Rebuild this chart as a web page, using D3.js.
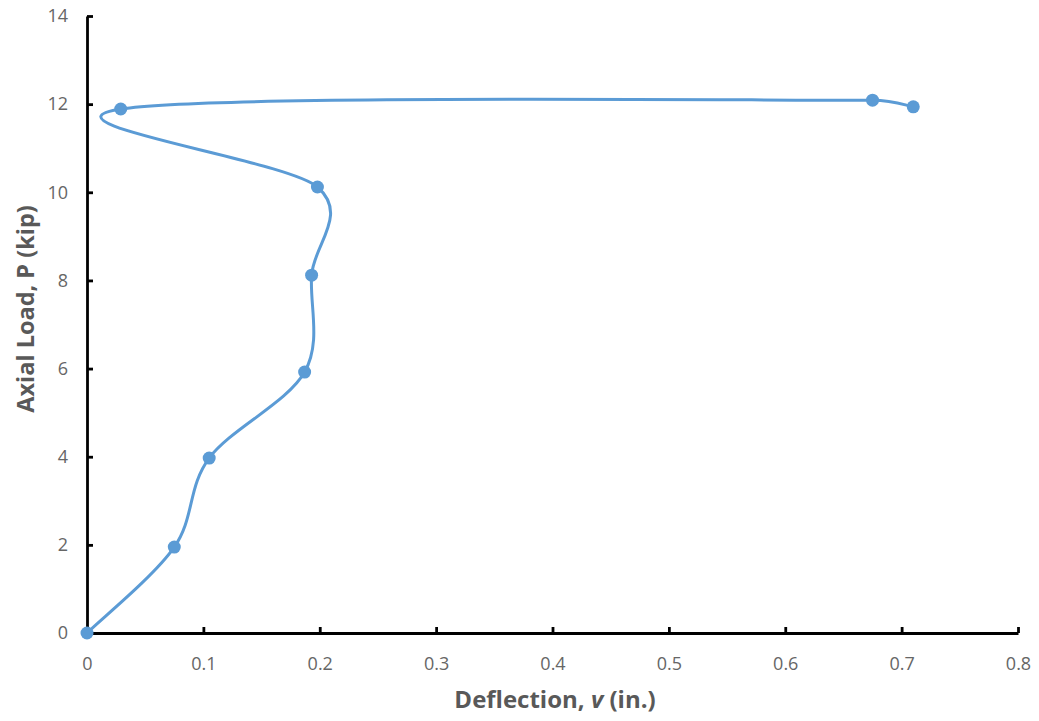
<!DOCTYPE html>
<html>
<head>
<meta charset="utf-8">
<script src="https://cdn.jsdelivr.net/npm/d3@7"></script>
<style>
  html, body { margin: 0; padding: 0; background: #fff; }
  svg { display: block; }
  text { font-family: "Open Sans", "Noto Sans", sans-serif; fill: #595959; }
</style>
</head>
<body>
<svg id="chart" width="1039" height="721"></svg>
<script>
// Load–deflection test readings
const deflection = [0, 0.075, 0.105, 0.187, 0.193, 0.198, 0.029, 0.675, 0.710];
const axialLoad  = [0, 1.95, 3.97, 5.92, 8.12, 10.12, 11.89, 12.09, 11.94];

const xTicks = [0, 0.1, 0.2, 0.3, 0.4, 0.5, 0.6, 0.7, 0.8];
const yTicks = [0, 2, 4, 6, 8, 10, 12, 14];

const svg = d3.select("#chart");
const plotLeft = 87, plotRight = 1018, plotTop = 16, plotBottom = 633;

const x = d3.scaleLinear().domain([0, 0.8]).range([plotLeft, plotRight]);
const y = d3.scaleLinear().domain([0, 14]).range([plotBottom, plotTop]);

const color = "#5B9BD5";

// Spreadsheet-style smoothing: Catmull–Rom Béziers whose control arms
// are limited to half of the segment they belong to.
function curveSmoothLimited(context) {
  let pts;
  return {
    areaStart() {}, areaEnd() {},
    lineStart() { pts = []; },
    point(px, py) { pts.push([+px, +py]); },
    lineEnd() {
      const n = pts.length;
      if (!n) return;
      context.moveTo(pts[0][0], pts[0][1]);
      for (let i = 0; i < n - 1; i++) {
        const p0 = pts[Math.max(i - 1, 0)], p1 = pts[i], p2 = pts[i + 1], p3 = pts[Math.min(i + 2, n - 1)];
        const d12 = Math.hypot(p2[0] - p1[0], p2[1] - p1[1]);
        const d02 = Math.hypot(p2[0] - p0[0], p2[1] - p0[1]);
        const d13 = Math.hypot(p3[0] - p1[0], p3[1] - p1[1]);
        let f0 = 1 / 6, f1 = 1 / 6;
        if (d02 * f0 > d12 / 2) f0 = d12 / 2 / d02;
        if (d13 * f1 > d12 / 2) f1 = d12 / 2 / d13;
        context.bezierCurveTo(
          p1[0] + f0 * (p2[0] - p0[0]), p1[1] + f0 * (p2[1] - p0[1]),
          p2[0] - f1 * (p3[0] - p1[0]), p2[1] - f1 * (p3[1] - p1[1]),
          p2[0], p2[1]);
      }
    }
  };
}

// Axes with inward ticks
const xAxis = d3.axisBottom(x).tickValues(xTicks).tickSize(-6).tickSizeOuter(0)
  .tickFormat(d => d === 0 ? "0" : d3.format(".1f")(d)).tickPadding(24);
const yAxis = d3.axisLeft(y).tickValues(yTicks).tickSize(-6).tickSizeOuter(0)
  .tickFormat(d3.format("d")).tickPadding(19);

const gx = svg.append("g").attr("transform", `translate(0,${plotBottom})`).call(xAxis);
const gy = svg.append("g").attr("transform", `translate(${plotLeft},0)`).call(yAxis);

[gx, gy].forEach(g => {
  g.select(".domain").attr("stroke", "#000").attr("stroke-width", 2.8);
  g.selectAll(".tick line").attr("stroke", "#000").attr("stroke-width", 2.8);
  g.selectAll(".tick text").style("font-size", "18px").style("fill", "#666666")
    .style("font-family", "'Open Sans', sans-serif");
});

// Smoothed curve through the readings
const pts = deflection.map((d, i) => [d, axialLoad[i]]);
const line = d3.line()
  .x(d => x(d[0])).y(d => y(d[1]))
  .curve(curveSmoothLimited);

svg.append("path")
  .datum(pts)
  .attr("d", line)
  .attr("fill", "none")
  .attr("stroke", color)
  .attr("stroke-width", 3);

svg.append("g").selectAll("circle")
  .data(pts)
  .join("circle")
  .attr("cx", d => x(d[0]))
  .attr("cy", d => y(d[1]))
  .attr("r", 6.5)
  .attr("fill", color);

// Axis titles
const xt = svg.append("text")
  .attr("x", 555).attr("y", 708)
  .attr("text-anchor", "middle")
  .style("font-size", "24px").style("font-weight", "bold");
xt.append("tspan").text("Deflection, ");
xt.append("tspan").style("font-style", "italic").text("v");
xt.append("tspan").text(" (in.)");

svg.append("text")
  .attr("transform", "translate(34,309) rotate(-90)")
  .attr("text-anchor", "middle")
  .style("font-size", "23.5px").style("font-weight", "bold")
  .text("Axial Load, P (kip)");
</script>
</body>
</html>
